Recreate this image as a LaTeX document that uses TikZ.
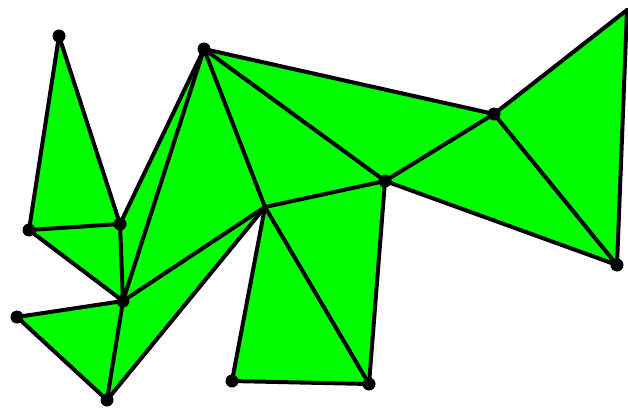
\documentclass[tikz,border=0pt]{standalone}
\begin{document}
\begin{tikzpicture}[x=1pt,y=-1pt,
  edge/.style={draw=black,line width=4pt,line cap=round,line join=round},
  vdot/.style={circle,fill=black,inner sep=0pt,minimum size=13pt}]
\useasboundingbox (0,0) rectangle (628,409);
\coordinate (A) at (59,36);
\coordinate (B) at (29,230);
\coordinate (C) at (120,224);
\coordinate (D) at (123,301);
\coordinate (E) at (17,317);
\coordinate (F) at (107,400);
\coordinate (G) at (204,49);
\coordinate (H) at (265,207);
\coordinate (I) at (385,181);
\coordinate (J) at (494,114);
\coordinate (K) at (627,10);
\coordinate (L) at (617,265);
\coordinate (M) at (232,381);
\coordinate (N) at (369,384);
\begin{scope}[xshift=-2pt,yshift=-2pt]
\foreach \a/\b/\c in {A/B/C,B/C/D,C/D/G,D/G/H,D/H/F,D/E/F,G/H/I,G/I/J,I/J/L,J/K/L,H/M/N,H/I/N}
  \fill[green] (\a) -- (\b) -- (\c) -- cycle;
\end{scope}
\foreach \a/\b in {A/B,A/C,B/C,B/D,C/D,C/G,D/G,D/E,E/F,D/F,F/H,D/H,G/H,G/I,G/J,H/I,I/J,J/K,K/L,J/L,I/L,H/M,H/N,M/N,I/N}
  \draw[edge] (\a) -- (\b);
\foreach \v in {A,B,C,D,E,F,G,I,J,L,M,N}
  \node[vdot] at (\v) {};
\end{tikzpicture}
\end{document}
